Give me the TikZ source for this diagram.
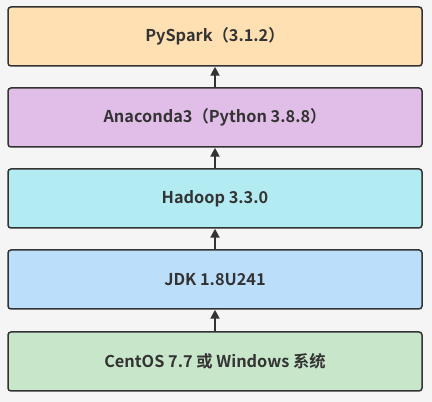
\documentclass[tikz,border=0pt]{standalone}
\usepackage{fontspec}
\setmainfont{Noto Sans CJK SC}[BoldFont={* Bold}]
\newfontfamily\cjkb{Noto Sans CJK SC Bold}
\usetikzlibrary{arrows.meta}
\definecolor{bg}{HTML}{F5F5F5}
\definecolor{edge}{HTML}{333333}
\definecolor{cA}{HTML}{FFE0B2}
\definecolor{cB}{HTML}{E1BEE7}
\definecolor{cC}{HTML}{B2EBF2}
\definecolor{cD}{HTML}{BBDEFB}
\definecolor{cE}{HTML}{C8E6C9}
\tikzset{
  layer/.style={draw=edge, line width=1.5pt, rounded corners=3pt, minimum width=414pt, minimum height=59pt, inner sep=0pt, font=\cjkb\fontsize{16.3}{18}\selectfont, text=edge},
  up/.style={draw=edge, line width=2pt, -{Triangle[length=9pt,width=9pt]}}
}
\begin{document}
\begin{tikzpicture}[x=1pt,y=1pt]
\fill[bg] (0,0) rectangle (432,402);
\useasboundingbox (0,0) rectangle (432,402);
\node[layer, fill=cA] (a) at (215,365.5) {PySpark（3.1.2）};
\node[layer, fill=cB] (b) at (215,284.5) {Anaconda3（Python 3.8.8）};
\node[layer, fill=cC] (c) at (215,203.5) {Hadoop 3.3.0};
\node[layer, fill=cD] (d) at (215,122.5) {JDK 1.8U241};
\node[layer, fill=cE] (e) at (215,40.5) {CentOS 7.7 或 Windows 系统};
\draw[up] (b.north) -- (a.south);
\draw[up] (c.north) -- (b.south);
\draw[up] (d.north) -- (c.south);
\draw[up] (e.north) -- (d.south);
\end{tikzpicture}
\end{document}
